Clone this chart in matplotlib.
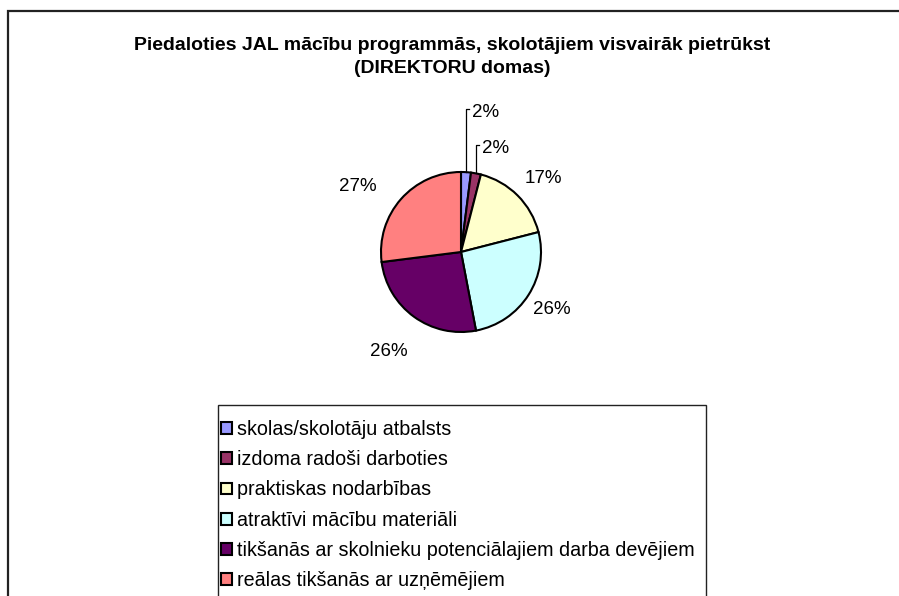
import numpy as np
import matplotlib.pyplot as plt
from matplotlib.patches import Rectangle, Patch

plt.rcParams['font.family'] = ['Liberation Sans', 'DejaVu Sans']

# data
categories = ['skolas/skolotāju atbalsts',
              'izdoma radoši darboties',
              'praktiskas nodarbības',
              'atraktīvi mācību materiāli',
              'tikšanās ar skolnieku potenciālajiem darba devējiem',
              'reālas tikšanās ar uzņēmējiem']
values = [2, 2, 17, 26, 26, 27]
colors = ['#9999FF', '#993366', '#FFFFCC', '#CCFFFF', '#660066', '#FF8080']
title = 'Piedaloties JAL mācību programmās, skolotājiem visvairāk pietrūkst\n(DIREKTORU domas)'

W, H = 899, 596
fig = plt.figure(figsize=(W / 100, H / 100), dpi=100)

# outer chart border (only left & top visible, like the cropped original)
fig.patches.append(Rectangle((8 / W, -0.1), 1.2, 1 - 11 / H + 0.1, transform=fig.transFigure,
                             fill=False, edgecolor='#222222', linewidth=1.6))

fig.text(452 / W, 1 - 57 / H, title, ha='center', va='center', fontsize=14,
         fontweight='bold', linespacing=1.45)

# pie axes: centre (461, 252) px, radius 80 px
cx, cy, r = 461, 252, 80
half = 2.5 * r / 2
ax = fig.add_axes([(cx - half) / W, (H - cy - half) / H, 2 * half / W, 2 * half / H])
ax.set_xlim(-1.25, 1.25)
ax.set_ylim(-1.25, 1.25)
ax.set_aspect('equal')
ax.axis('off')

wedges, _ = ax.pie(values, colors=colors, startangle=90, counterclock=False,
                   wedgeprops=dict(edgecolor='black', linewidth=1.5))

# label placement: radius and angular nudge per slice (None -> leader line)
label_r = [None, None, 1.38, 1.35, 1.53, 1.53]
label_da = [0, 0, -3, 0, 0, 8.8]
leader_top = [1.79, 1.34]
for i, (w, v) in enumerate(zip(wedges, values)):
    mid = (w.theta1 + w.theta2) / 2
    if label_r[i] is None:
        x, y = np.cos(np.deg2rad(mid)), np.sin(np.deg2rad(mid))
        top = leader_top[i]
        ax.plot([x, x, x + 0.04], [y, top, top], color='black', lw=0.9, clip_on=False)
        ax.text(x + 0.08, top - 0.05, f'{v}%', ha='left', va='center', fontsize=13.5)
    else:
        a = np.deg2rad(mid + label_da[i])
        ax.text(label_r[i] * np.cos(a), label_r[i] * np.sin(a), f'{v}%', ha='center',
                va='center', fontsize=13.5)

# legend frame (cropped at the bottom) and entries
fig.patches.append(Rectangle((218 / W, -0.1), (706 - 218) / W, 1 - 405 / H + 0.1,
                             transform=fig.transFigure, fill=False,
                             edgecolor='#222222', linewidth=1.0))
handles = [Patch(facecolor=c, edgecolor='black', linewidth=1.5) for c in colors]
leg = fig.legend(handles, categories, loc='upper left',
                 bbox_to_anchor=(221 / W, 1 - 420 / H), fontsize=14.2,
                 frameon=False, handlelength=0.55, handleheight=0.55, handletextpad=0.28,
                 labelspacing=0.57, borderpad=0, borderaxespad=0)

fig.savefig('out.png', dpi=100)
